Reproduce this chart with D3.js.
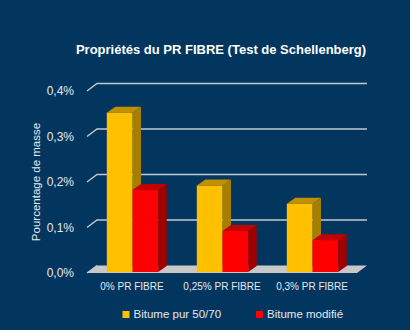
<!DOCTYPE html>
<html>
<head>
<meta charset="utf-8">
<script src="https://cdn.jsdelivr.net/npm/d3@7"></script>
<style>
  html, body { margin: 0; padding: 0; background: #02365f; }
  svg { display: block; }
</style>
</head>
<body>
<svg id="chart" width="410" height="330"></svg>
<script>
// Data
const categories = ["0% PR FIBRE", "0,25% PR FIBRE", "0,3% PR FIBRE"];
const seriesNames = ["Bitume pur 50/70", "Bitume modifié"];
const bitumePur = [0.35, 0.19, 0.15];
const bitumeModifie = [0.18, 0.09, 0.07];
const yTicks = [0, 0.1, 0.2, 0.3, 0.4];
const yTickLabels = ["0,0%", "0,1%", "0,2%", "0,3%", "0,4%"];

const W = 410, H = 330;
const svg = d3.select("#chart");
svg.append("rect").attr("width", W).attr("height", H).attr("fill", "#02365f");

const font = "'Liberation Sans', Arial, sans-serif";

// Scales on the back wall plane
const x = d3.scaleBand().domain(categories).range([97, 367]).paddingInner(0.429).paddingOuter(0.2145);
const xs = d3.scaleBand().domain(seriesNames).range([0, x.bandwidth()]);
const y = d3.scaleLinear().domain([0, 0.4]).range([265.5, 83.5]);

// Depth offsets
const wallDX = -10, wallDY = 7.5;   // back wall -> front edge of floor
const barDX = -9.5, barDY = 6.5;    // back wall -> front face of bars
const barDepthX = 8.5, barDepthY = -6;

const colors = {
  "Bitume pur 50/70": { front: "#ffc000", side: "#a67e00", top: "#bf9000" },
  "Bitume modifié": { front: "#ff0000", side: "#a00000", top: "#c40000" }
};

// Floor
const [x0, x1] = x.range();
const yb = y(0);
svg.append("path")
  .attr("d", `M${x0 + wallDX},${yb + wallDY} L${x0},${yb} L${x1},${yb} L${x1 + wallDX},${yb + wallDY} Z`)
  .attr("fill", "#c8c8c8");

// Gridlines (back wall) with the left depth edge
const grid = svg.append("g");
yTicks.filter(t => t > 0).forEach(t => {
  grid.append("path")
    .attr("d", `M${x0 + wallDX},${y(t) + wallDY} L${x0},${y(t)} L${x1},${y(t)}`)
    .attr("fill", "none")
    .attr("stroke", "#c3c8cf")
    .attr("stroke-width", 1.4);
});
// left depth edge of floor line
grid.append("path")
  .attr("d", `M${x0 + wallDX},${yb + wallDY} L${x0},${yb}`)
  .attr("stroke", "#c3c8cf").attr("stroke-width", 1.2);

// Bars
const rows = [];
categories.forEach((c, i) => {
  rows.push({ cat: c, series: seriesNames[0], value: bitumePur[i] });
  rows.push({ cat: c, series: seriesNames[1], value: bitumeModifie[i] });
});

const bars = svg.append("g");
rows.forEach(d => {
  const bx = x(d.cat) + xs(d.series) + barDX;
  const bw = xs.bandwidth();
  const by0 = y(0) + barDY;
  const by1 = y(d.value) + barDY;
  const col = colors[d.series];
  const g = bars.append("g");
  // side face
  g.append("path")
    .attr("d", `M${bx + bw},${by1} L${bx + bw + barDepthX},${by1 + barDepthY} L${bx + bw + barDepthX},${by0 + barDepthY} L${bx + bw},${by0} Z`)
    .attr("fill", col.side);
  // top face
  g.append("path")
    .attr("d", `M${bx},${by1} L${bx + barDepthX},${by1 + barDepthY} L${bx + bw + barDepthX},${by1 + barDepthY} L${bx + bw},${by1} Z`)
    .attr("fill", col.top);
  // front face
  g.append("rect")
    .attr("x", bx).attr("y", by1).attr("width", bw).attr("height", by0 - by1)
    .attr("fill", col.front);
});

// Y tick labels
svg.append("g").selectAll("text")
  .data(yTicks)
  .join("text")
  .attr("x", 74)
  .attr("y", (t) => y(t) + wallDY + 1)
  .attr("text-anchor", "end")
  .attr("dominant-baseline", "middle")
  .attr("font-family", font)
  .attr("font-size", 12)
  .attr("fill", "#e6e9ee")
  .text((t, i) => yTickLabels[i]);

// Y axis title
svg.append("text")
  .attr("transform", `translate(37,182) rotate(-90)`)
  .attr("text-anchor", "middle")
  .attr("dominant-baseline", "middle")
  .attr("font-family", font)
  .attr("font-size", 11.5)
  .attr("fill", "#e6e9ee")
  .text("Pourcentage de masse");

// Category labels
svg.append("g").selectAll("text")
  .data(categories)
  .join("text")
  .attr("x", c => x(c) + x.bandwidth() / 2 + wallDX)
  .attr("y", 287)
  .attr("text-anchor", "middle")
  .attr("dominant-baseline", "middle")
  .attr("font-family", font)
  .attr("font-size", 10)
  .attr("fill", "#e6e9ee")
  .text(c => c);

// Title
svg.append("text")
  .attr("x", 221)
  .attr("y", 51)
  .attr("text-anchor", "middle")
  .attr("dominant-baseline", "middle")
  .attr("font-family", font)
  .attr("font-size", 13)
  .attr("font-weight", "bold")
  .attr("fill", "#ffffff")
  .text("Propriétés du PR FIBRE (Test de Schellenberg)");

// Legend
const legendItems = [
  { name: seriesNames[0], sx: 122.5 },
  { name: seriesNames[1], sx: 256 }
];
const lg = svg.append("g");
legendItems.forEach(it => {
  lg.append("rect")
    .attr("x", it.sx).attr("y", 311).attr("width", 7).attr("height", 7)
    .attr("fill", colors[it.name].front);
  lg.append("text")
    .attr("x", it.sx + 11)
    .attr("y", 315)
    .attr("dominant-baseline", "middle")
    .attr("font-family", font)
    .attr("font-size", 11.5)
    .attr("fill", "#e6e9ee")
    .text(it.name);
});
</script>
</body>
</html>
